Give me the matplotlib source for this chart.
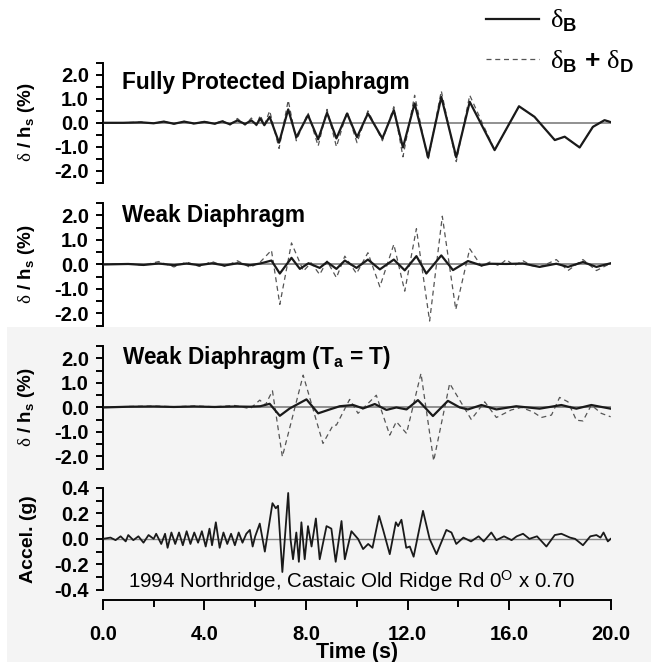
import matplotlib
matplotlib.use('Agg')
import matplotlib.pyplot as plt
from matplotlib.patches import Rectangle
from matplotlib.ticker import MultipleLocator, FormatStrFormatter

plt.rcParams['font.family'] = ['Liberation Sans', 'DejaVu Sans']
plt.rcParams['mathtext.fontset'] = 'custom'
plt.rcParams['mathtext.rm'] = 'Liberation Serif'
plt.rcParams['mathtext.bf'] = 'Liberation Sans:bold'
plt.rcParams['mathtext.sf'] = 'Liberation Sans'
plt.rcParams['mathtext.it'] = 'Liberation Sans:italic'

# drift ratio, fully protected diaphragm (%)
fp_t = [0.0, 0.8, 1.5, 2.0, 2.4, 2.8, 3.2, 3.6, 4.0, 4.4,
        4.7, 5.0, 5.3, 5.6, 5.85, 6.05, 6.2, 6.36, 6.57, 6.94,
        7.30, 7.62, 8.08, 8.48, 8.83, 9.20, 9.62, 10.01, 10.44, 11.01,
        11.46, 11.82, 12.28, 12.81, 13.33, 13.92, 14.45, 15.43, 16.39, 17.0,
        17.8, 18.19, 18.78, 19.30, 19.76, 20.0]
fp_base = [0, 0, 0.02, -0.02, 0.05, -0.04, 0.05, -0.03, 0.04, -0.04,
           0.06, -0.06, 0.1, -0.05, 0.1, -0.08, 0.18, -0.1, 0.25, -0.83,
           0.56, -0.61, 0.32, -0.69, 0.42, -0.65, 0.39, -0.6, 0.39, -0.65,
           0.53, -1.03, 0.81, -1.44, 1.08, -1.44, 0.875, -1.14, 0.69, 0.25,
           -0.72, -0.58, -1.03, -0.17, 0.11, 0.03]
fp_total = [0, 0, 0.03, -0.03, 0.06, -0.05, 0.06, -0.05, 0.06, -0.06,
            0.1, -0.1, 0.18, -0.1, 0.2, -0.12, 0.32, -0.1, 0.5, -1.07,
            0.94, -0.75, 0.42, -0.97, 0.56, -1.0, 0.46, -0.83, 0.5, -0.75,
            0.67, -1.42, 1.15, -1.56, 1.33, -1.62, 1.15, -1.14, 0.69, 0.25,
            -0.72, -0.58, -1.03, -0.17, 0.11, 0.03]

# weak diaphragm
wd_base_t = [0.0, 1.0, 1.6, 2.2, 2.8, 3.3, 3.8, 4.3, 4.8, 5.3,
             5.8, 6.2, 6.64, 6.97, 7.43, 7.76, 8.1, 8.54, 8.83, 9.2,
             9.53, 9.99, 10.44, 10.91, 11.46, 11.89, 12.35, 12.74, 13.33, 13.79,
             14.38, 14.91, 15.24, 15.89, 16.55, 17.2, 17.86, 18.32, 18.91, 19.44,
             20.0]
wd_base = [0, 0.02, -0.02, 0.04, -0.03, 0.04, -0.03, 0.05, -0.04, 0.05,
           -0.03, 0.04, 0.16, -0.37, 0.27, -0.18, 0.05, -0.14, 0.1, -0.18,
           0.16, -0.14, 0.2, -0.2, 0.2, -0.24, 0.34, -0.37, 0.37, -0.23,
           0.14, -0.04, 0.03, 0.02, 0.04, -0.1, 0.03, -0.1, 0.1, -0.1,
           0.05]
wd_total_t = [0.0, 1.0, 1.6, 2.2, 2.8, 3.3, 3.8, 4.3, 4.8, 5.3,
              5.8, 6.2, 6.64, 6.97, 7.43, 7.9, 8.2, 8.54, 8.83, 9.2,
              9.53, 9.99, 10.44, 10.91, 11.46, 11.89, 12.35, 12.87, 13.37, 13.9,
              14.45, 14.91, 15.24, 15.6, 15.89, 16.2, 16.55, 16.9, 17.2, 17.55,
              17.86, 18.32, 18.91, 19.44, 20.0]
wd_total = [0, 0.03, -0.03, 0.12, -0.1, 0.1, -0.08, 0.12, -0.08, 0.15,
            -0.12, 0.1, 0.58, -1.63, 0.88, -0.27, 0.07, -0.41, 0.14, -0.54,
            0.34, -0.37, 0.48, -0.91, 0.82, -1.09, 1.46, -2.31, 1.97, -1.84,
            0.64, -0.07, 0.1, -0.05, 0.2, -0.05, 0.15, -0.05, -0.1, 0.05,
            0.2, -0.25, 0.2, -0.25, 0.05]

# weak diaphragm, Ta = T
ta_base_t = [0.0, 1.0, 2.0, 2.8, 3.6, 4.4, 5.2, 5.8, 6.2, 6.57,
             6.97, 7.36, 8.02, 8.48, 8.94, 9.33, 9.86, 10.25, 10.71, 11.17,
             11.56, 11.96, 12.41, 12.72, 13.0, 13.59, 14.06, 14.38, 14.91, 15.5,
             16.28, 17.2, 18.06, 18.65, 19.24, 20.0]
ta_base = [0, 0.03, 0.04, 0.02, 0.04, 0.02, 0.04, 0.03, 0.05, 0.15,
           -0.34, -0.04, 0.33, -0.24, -0.08, 0.05, 0.1, -0.04, 0.14, -0.1,
           0.0, -0.08, 0.3, -0.04, -0.35, 0.27, 0.0, -0.08, 0.1, -0.08,
           0.05, -0.05, 0.1, -0.05, 0.1, -0.05]
ta_total_t = [0.0, 1.0, 2.0, 2.8, 3.6, 4.4, 5.2, 5.8, 6.18, 6.4,
              6.68, 7.07, 7.89, 8.67, 9.07, 9.2, 9.72, 10.05, 10.77, 11.30,
              11.56, 11.96, 12.53, 13.03, 13.66, 14.51, 15.04, 15.5, 16.09, 16.48,
              16.94, 17.27, 17.67, 17.99, 18.32, 18.65, 18.91, 19.24, 19.63, 20.0]
ta_total = [0, 0.04, 0.06, 0.03, 0.06, 0.03, 0.08, -0.05, 0.3, 0.1,
            0.68, -2.01, 1.32, -1.47, -0.72, -0.72, 0.33, -0.24, 0.5, -1.13,
            -0.58, -1.06, 1.39, -2.18, 0.98, -0.49, 0.23, -0.41, -0.1, 0.0,
            -0.18, -0.41, -0.31, 0.41, 0.23, -0.52, -0.55, 0.1, -0.24, -0.38]

# ground acceleration (g)
acc_t = [0.0, 0.3, 0.5, 0.7, 0.9, 1.0, 1.2, 1.4, 1.6, 1.8,
         2.0, 2.1, 2.3, 2.45, 2.55, 2.7, 2.85, 3.0, 3.15, 3.3,
         3.45, 3.6, 3.75, 3.9, 4.05, 4.2, 4.3, 4.45, 4.6, 4.75,
         4.9, 5.05, 5.2, 5.35, 5.5, 5.65, 5.79, 5.9, 6.0, 6.18,
         6.38, 6.68, 6.81, 6.9, 7.07, 7.3, 7.39, 7.49, 7.62, 7.72,
         7.82, 7.95, 8.08, 8.22, 8.39, 8.54, 8.81, 8.91, 9.0, 9.17,
         9.4, 9.53, 9.79, 10.05, 10.25, 10.45, 10.62, 10.88, 11.04, 11.3,
         11.54, 11.63, 11.76, 11.95, 12.09, 12.24, 12.61, 12.87, 13.14, 13.53,
         13.73, 13.92, 14.2, 14.5, 14.8, 15.0, 15.3, 15.5, 15.8, 16.1,
         16.3, 16.55, 16.8, 17.1, 17.47, 17.8, 18.06, 18.4, 18.6, 18.91,
         19.2, 19.44, 19.6, 19.72, 19.89, 20.0]
acc = [0.0, 0.01, -0.01, 0.02, -0.02, 0.03, -0.01, 0.02, -0.03, 0.03,
       0.0, 0.04, -0.04, 0.04, -0.07, 0.05, -0.04, 0.05, -0.05, 0.06,
       -0.04, 0.05, -0.03, 0.06, -0.06, 0.08, -0.05, 0.13, -0.07, 0.05,
       -0.04, 0.04, -0.05, 0.05, -0.03, 0.04, 0.07, -0.06, 0.02, 0.12,
       -0.1, 0.28, 0.24, 0.26, -0.26, 0.36, 0.0, -0.16, 0.05, -0.18,
       0.13, -0.16, 0.1, -0.06, 0.16, -0.16, 0.1, 0.09, 0.08, -0.18,
       0.14, -0.16, 0.06, 0.0, -0.08, -0.04, -0.07, 0.18, 0.07, -0.12,
       0.13, 0.1, 0.15, -0.07, -0.06, -0.14, 0.22, 0.0, -0.12, 0.07,
       0.05, -0.04, 0.01, -0.02, 0.02, -0.02, 0.05, -0.01, 0.02, -0.01,
       0.02, 0.04, 0.0, 0.02, -0.06, 0.03, 0.04, 0.01, 0.0, -0.05,
       0.02, 0.03, 0.01, 0.05, -0.02, 0.0]

fig = plt.figure(figsize=(6.51, 6.62), dpi=100)
# light grey panel behind the lower two plots
fig.patches.append(Rectangle((0.011, 0), 0.989, 0.506, transform=fig.transFigure,
                             facecolor='#f4f4f4', edgecolor='none', zorder=-10))

left, width = 0.158, 0.780
ax1 = fig.add_axes([left, 0.724, width, 0.181])
ax2 = fig.add_axes([left, 0.508, width, 0.185])
ax3 = fig.add_axes([left, 0.292, width, 0.185])
ax4 = fig.add_axes([left, 0.109, width, 0.154])

solid_kw = dict(color='#1a1a1a', lw=1.6, zorder=3)
dash_kw = dict(color='#555555', lw=0.9, linestyle=(0, (4, 3)), zorder=2)
tick_size = 14.5

panels = [
    (ax1, fp_t, fp_base, fp_t, fp_total, 'Fully Protected Diaphragm', 0.84),
    (ax2, wd_base_t, wd_base, wd_total_t, wd_total, 'Weak Diaphragm', 0.90),
    (ax3, ta_base_t, ta_base, ta_total_t, ta_total,
     r'Weak Diaphragm (T$_\mathbf{a}$ = T)', 0.91),
]

for ax, tb, yb, tt, yt, title, ty in panels:
    ax.set_facecolor('none')
    ax.axhline(0, color='#888888', lw=1.3, zorder=1)
    lb, = ax.plot(tb, yb, **solid_kw)
    lt, = ax.plot(tt, yt, **dash_kw)
    ax.set_xlim(0, 20)
    ax.set_ylim(-2.5, 2.5)
    for s in ['top', 'right', 'bottom']:
        ax.spines[s].set_visible(False)
    ax.spines['left'].set_linewidth(1.4)
    ax.set_xticks([])
    ax.yaxis.set_major_locator(MultipleLocator(1.0))
    ax.yaxis.set_minor_locator(MultipleLocator(0.5))
    ax.yaxis.set_major_formatter(FormatStrFormatter('%.1f'))
    ax.tick_params(axis='y', which='both', direction='out', length=5, width=1.4,
                   labelsize=tick_size, pad=5)
    for lab in ax.get_yticklabels():
        lab.set_fontweight('bold')
    ax.set_ylabel(r'$\mathrm{\delta}$ / h$_\mathbf{s}$ (%)', fontsize=13.5,
                  fontweight='bold')
    ax.yaxis.set_label_coords(-0.13, 0.5)
    ax.text(0.037, ty, title, transform=ax.transAxes, fontsize=16.3,
            fontweight='bold', va='center', ha='left')

# acceleration record
ax4.set_facecolor('none')
ax4.axhline(0, color='#888888', lw=1.0, zorder=1)
ax4.plot(acc_t, acc, color='#1a1a1a', lw=1.3, zorder=3)
ax4.set_xlim(0, 20)
ax4.set_ylim(-0.4, 0.4)
ax4.spines['top'].set_visible(False)
ax4.spines['right'].set_visible(False)
ax4.spines['left'].set_linewidth(1.4)
ax4.spines['bottom'].set_linewidth(1.4)
ax4.spines['bottom'].set_position(('outward', 7))
ax4.yaxis.set_major_locator(MultipleLocator(0.2))
ax4.yaxis.set_minor_locator(MultipleLocator(0.1))
ax4.yaxis.set_major_formatter(FormatStrFormatter('%.1f'))
ax4.xaxis.set_major_locator(MultipleLocator(4.0))
ax4.xaxis.set_minor_locator(MultipleLocator(2.0))
ax4.xaxis.set_major_formatter(FormatStrFormatter('%.1f'))
ax4.tick_params(axis='both', which='both', direction='out', width=1.4,
                labelsize=tick_size)
ax4.tick_params(axis='y', which='both', length=5, pad=5)
ax4.tick_params(axis='x', which='major', length=7, pad=11)
ax4.tick_params(axis='x', which='minor', length=5)
for lab in ax4.get_yticklabels() + ax4.get_xticklabels():
    lab.set_fontweight('bold')
ax4.set_ylabel('Accel. (g)', fontsize=14, fontweight='bold')
ax4.yaxis.set_label_coords(-0.13, 0.5)
ax4.set_xlabel('Time (s)', fontsize=15.5, fontweight='bold', labelpad=-1)
ax4.text(0.49, 0.09, r'1994 Northridge, Castaic Old Ridge Rd 0$^\mathsf{O}$ x 0.70',
         transform=ax4.transAxes, fontsize=14.8, ha='center', va='center')

fig.legend([lb, lt],
           [r'$\mathrm{\delta}_\mathbf{B}$',
            r'$\mathrm{\delta}_\mathbf{B}$ + $\mathrm{\delta}_\mathbf{D}$'],
           loc='upper right', bbox_to_anchor=(1.01, 1.024), frameon=False,
           handlelength=2.0, labelspacing=0.55, handletextpad=0.4,
           prop={'weight': 'bold', 'size': 19})

fig.savefig('out.png', dpi=100)
